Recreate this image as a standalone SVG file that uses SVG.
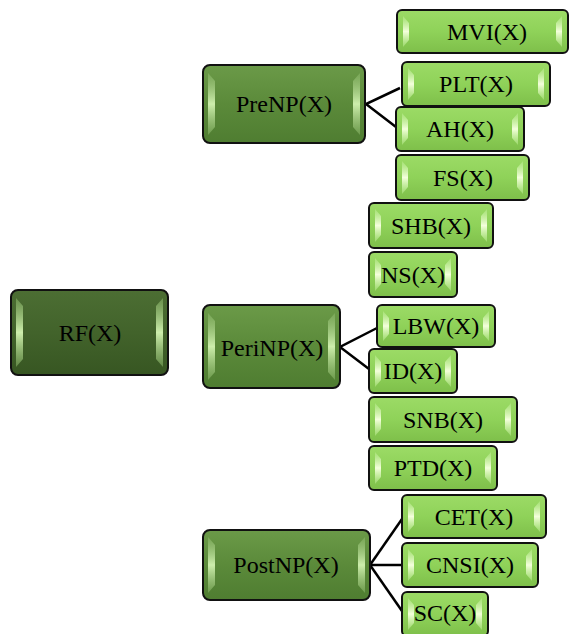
<svg xmlns="http://www.w3.org/2000/svg" width="571" height="634" viewBox="0 0 571 634">
<defs>
<linearGradient id="gLeaf" x1="0" y1="0" x2="0" y2="1">
<stop offset="0" stop-color="#9cdb66"/>
<stop offset="0.5" stop-color="#8fd259"/>
<stop offset="1" stop-color="#7ebf4a"/>
</linearGradient>
<linearGradient id="gMid" x1="0" y1="0" x2="0" y2="1">
<stop offset="0" stop-color="#6b9a48"/>
<stop offset="0.5" stop-color="#5b8a3a"/>
<stop offset="1" stop-color="#4f7d31"/>
</linearGradient>
<linearGradient id="gRoot" x1="0" y1="0" x2="0" y2="1">
<stop offset="0" stop-color="#4c6e33"/>
<stop offset="0.5" stop-color="#42632b"/>
<stop offset="1" stop-color="#375622"/>
</linearGradient>
<linearGradient id="gHiLeaf" x1="0" y1="0" x2="0" y2="1">
<stop offset="0" stop-color="#b8ec8c" stop-opacity="0.5"/>
<stop offset="0.5" stop-color="#f4ffdc"/>
<stop offset="1" stop-color="#b8ec8c" stop-opacity="0.5"/>
</linearGradient>
<linearGradient id="gHiDark" x1="0" y1="0" x2="0" y2="1">
<stop offset="0" stop-color="#8cb86a" stop-opacity="0.5"/>
<stop offset="0.5" stop-color="#cdeeac"/>
<stop offset="1" stop-color="#8cb86a" stop-opacity="0.5"/>
</linearGradient>
</defs>
<style>
.box{stroke:#111;stroke-width:2}
.leaf .box{fill:url(#gLeaf)}
.mid .box{fill:url(#gMid)}
.root .box{fill:url(#gRoot)}
.leaf .hi{fill:url(#gHiLeaf)}
.mid .hi,.root .hi{fill:url(#gHiDark)}
text{font-family:"Liberation Serif","Times New Roman",serif;font-size:24px;fill:#000;text-anchor:middle}
.conn{stroke:#000;stroke-width:2.5;fill:none}
</style>

<g id="connectors">
<polyline class="conn" points="400,88 366,104 396,127"/>
<polyline class="conn" points="377,328 340,347 369,369"/>
<line class="conn" x1="370" y1="565" x2="402" y2="519"/>
<line class="conn" x1="370" y1="565" x2="402" y2="565"/>
<line class="conn" x1="370" y1="565" x2="402" y2="611"/>
</g>

<g id="RF" class="root">
<rect class="box" x="11" y="290" width="157" height="85" rx="7"/>
<path class="hi" d="M16,298 L23,306 L23,359 L16,367 Z"/>
<path class="hi" d="M163,298 L156,306 L156,359 L163,367 Z"/>
<text x="90" y="341">RF(X)</text>
</g>

<g id="PreNP" class="mid">
<rect class="box" x="203" y="65" width="162" height="78" rx="7"/>
<path class="hi" d="M208,73 L215,81 L215,127 L208,135 Z"/>
<path class="hi" d="M360,73 L353,81 L353,127 L360,135 Z"/>
<text x="284" y="112">PreNP(X)</text>
</g>

<g id="PeriNP" class="mid">
<rect class="box" x="203" y="305" width="137" height="83" rx="7"/>
<path class="hi" d="M208,313 L215,321 L215,372 L208,380 Z"/>
<path class="hi" d="M335,313 L328,321 L328,372 L335,380 Z"/>
<text x="272" y="356">PeriNP(X)</text>
</g>

<g id="PostNP" class="mid">
<rect class="box" x="203" y="530" width="167" height="70" rx="7"/>
<path class="hi" d="M208,537 L215,545 L215,585 L208,593 Z"/>
<path class="hi" d="M365,537 L358,545 L358,585 L365,593 Z"/>
<text x="286" y="573">PostNP(X)</text>
</g>

<g id="MVI" class="leaf">
<rect class="box" x="397" y="10" width="171" height="43" rx="5"/>
<path class="hi" d="M403,16 L409,23 L409,40 L403,47 Z"/>
<path class="hi" d="M562,16 L556,23 L556,40 L562,47 Z"/>
<text x="487" y="40">MVI(X)</text>
</g>

<g id="PLT" class="leaf">
<rect class="box" x="402" y="62" width="148" height="44" rx="5"/>
<path class="hi" d="M408,68 L414,75 L414,93 L408,100 Z"/>
<path class="hi" d="M544,68 L538,75 L538,93 L544,100 Z"/>
<text x="476" y="92">PLT(X)</text>
</g>

<g id="AH" class="leaf">
<rect class="box" x="396" y="107" width="128" height="44" rx="5"/>
<path class="hi" d="M402,113 L408,120 L408,138 L402,145 Z"/>
<path class="hi" d="M518,113 L512,120 L512,138 L518,145 Z"/>
<text x="460" y="137">AH(X)</text>
</g>

<g id="FS" class="leaf">
<rect class="box" x="396" y="155" width="133" height="45" rx="5"/>
<path class="hi" d="M402,161 L408,168 L408,187 L402,194 Z"/>
<path class="hi" d="M523,161 L517,168 L517,187 L523,194 Z"/>
<text x="463" y="186">FS(X)</text>
</g>

<g id="SHB" class="leaf">
<rect class="box" x="369" y="203" width="124" height="45" rx="5"/>
<path class="hi" d="M375,209 L381,216 L381,235 L375,242 Z"/>
<path class="hi" d="M487,209 L481,216 L481,235 L487,242 Z"/>
<text x="431" y="234">SHB(X)</text>
</g>

<g id="NS" class="leaf">
<rect class="box" x="369" y="252" width="88" height="45" rx="5"/>
<path class="hi" d="M375,258 L381,265 L381,284 L375,291 Z"/>
<path class="hi" d="M451,258 L445,265 L445,284 L451,291 Z"/>
<text x="413" y="283">NS(X)</text>
</g>

<g id="LBW" class="leaf">
<rect class="box" x="377" y="305" width="118" height="42" rx="5"/>
<path class="hi" d="M383,311 L389,318 L389,334 L383,341 Z"/>
<path class="hi" d="M489,311 L483,318 L483,334 L489,341 Z"/>
<text x="436" y="334">LBW(X)</text>
</g>

<g id="ID" class="leaf">
<rect class="box" x="369" y="349" width="88" height="44" rx="5"/>
<path class="hi" d="M375,355 L381,362 L381,380 L375,387 Z"/>
<path class="hi" d="M451,355 L445,362 L445,380 L451,387 Z"/>
<text x="413" y="379">ID(X)</text>
</g>

<g id="SNB" class="leaf">
<rect class="box" x="369" y="397" width="148" height="45" rx="5"/>
<path class="hi" d="M375,403 L381,410 L381,429 L375,436 Z"/>
<path class="hi" d="M511,403 L505,410 L505,429 L511,436 Z"/>
<text x="443" y="428">SNB(X)</text>
</g>

<g id="PTD" class="leaf">
<rect class="box" x="369" y="446" width="128" height="44" rx="5"/>
<path class="hi" d="M375,452 L381,459 L381,477 L375,484 Z"/>
<path class="hi" d="M491,452 L485,459 L485,477 L491,484 Z"/>
<text x="433" y="476">PTD(X)</text>
</g>

<g id="CET" class="leaf">
<rect class="box" x="402" y="495" width="144" height="43" rx="5"/>
<path class="hi" d="M408,501 L414,508 L414,525 L408,532 Z"/>
<path class="hi" d="M540,501 L534,508 L534,525 L540,532 Z"/>
<text x="474" y="525">CET(X)</text>
</g>

<g id="CNSI" class="leaf">
<rect class="box" x="402" y="543" width="136" height="44" rx="5"/>
<path class="hi" d="M408,549 L414,556 L414,574 L408,581 Z"/>
<path class="hi" d="M532,549 L526,556 L526,574 L532,581 Z"/>
<text x="470" y="573">CNSI(X)</text>
</g>

<g id="SC" class="leaf">
<rect class="box" x="402" y="592" width="86" height="44" rx="5"/>
<path class="hi" d="M408,598 L414,605 L414,623 L408,630 Z"/>
<path class="hi" d="M482,598 L476,605 L476,623 L482,630 Z"/>
<text x="445" y="621">SC(X)</text>
</g>
</svg>
